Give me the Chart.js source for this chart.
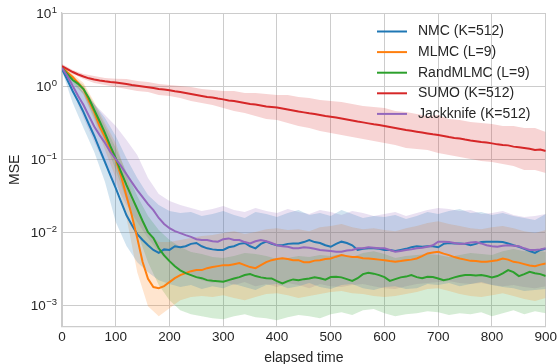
<!DOCTYPE html>
<html>
<head>
<meta charset="utf-8">
<script src="https://cdn.jsdelivr.net/npm/chart.js@4.4.0/dist/chart.umd.min.js"></script>
<style>
  html, body { margin: 0; padding: 0; background: #fff; }
  canvas { display: block; }
</style>
</head>
<body>
<canvas id="mseChart" width="560" height="364"></canvas>
<script>
// elapsed time grid for the mean curves and for the shaded bands
const time = [0,10,20,30,40,50,60,70,80,90,100,110,120,130,140,150,160,170,180,190,200,210,220,230,240,250,260,270,280,290,300,310,320,330,340,350,360,370,380,390,400,410,420,430,440,450,460,470,480,490,500,510,520,530,540,550,560,570,580,590,600,610,620,630,640,650,660,670,680,690,700,710,720,730,740,750,760,770,780,790,800,810,820,830,840,850,860,870,880,890,900]
const bandTime = [0,20,40,60,80,100,120,140,160,180,200,220,240,260,280,300,320,340,360,380,400,420,440,460,480,500,520,540,560,580,600,620,640,660,680,700,720,740,760,780,800,820,840,860,880,900]

const seriesNames = ["NMC (K=512)", "MLMC (L=9)", "RandMLMC (L=9)", "SUMO (K=512)", "Jackknife (K=512)"]

const nmc = [1.71,1.21,0.85,0.62,0.44,0.30,0.207,0.137,0.091,0.060,
  0.040,0.026,0.017,0.0125,0.0094,0.0078,0.0066,0.0057,0.0052,0.0058,
  0.0057,0.0064,0.0062,0.0064,0.0069,0.0071,0.0064,0.0060,0.0058,0.0057,
  0.0057,0.0062,0.0064,0.0069,0.0071,0.0064,0.0060,0.0069,0.0074,0.0069,
  0.0066,0.0066,0.0069,0.0070,0.0070,0.0073,0.0078,0.0073,0.0071,0.0066,
  0.0063,0.0069,0.0074,0.0071,0.0066,0.0057,0.0059,0.0060,0.0060,0.0059,
  0.0057,0.0057,0.0055,0.0057,0.0059,0.0062,0.0064,0.0063,0.0064,0.0064,
  0.0062,0.0069,0.0071,0.0070,0.0070,0.0069,0.0066,0.0069,0.0073,0.0074,
  0.0074,0.0074,0.0073,0.0070,0.0066,0.0063,0.0059,0.0055,0.0052,0.0057,
  0.0059]
const nmcHi = [1.88,1.21,0.828,0.567,0.365,0.207,0.103,0.0549,0.0321,0.0235,
  0.0194,0.0182,0.0188,0.0166,0.0177,0.0194,0.0171,0.0156,0.0188,0.0177,
  0.0161,0.0182,0.0201,0.0171,0.0182,0.0166,0.0201,0.0177,0.0156,0.0166,
  0.0161,0.0171,0.0151,0.0166,0.0188,0.0177,0.0194,0.0207,0.0182,0.0188,
  0.0171,0.0182,0.0166,0.0156,0.0146,0.0177]
const nmcLo = [1.61,0.585,0.266,0.125,0.0484,0.0137,0.00643,0.00388,0.00283,0.00220,
  0.00194,0.00177,0.00188,0.00166,0.00182,0.00171,0.00194,0.00177,0.00161,0.00188,
  0.00194,0.00171,0.00182,0.00201,0.00177,0.00166,0.00188,0.00194,0.00171,0.00161,
  0.00177,0.00182,0.00166,0.00171,0.00194,0.00188,0.00201,0.00182,0.00194,0.00207,
  0.00188,0.00177,0.00171,0.00156,0.00161,0.00166]

const mlmc = [1.82,1.55,1.33,1.10,0.91,0.62,0.44,0.28,0.20,0.137,
  0.097,0.058,0.031,0.0167,0.0083,0.0039,0.0023,0.00177,0.00171,0.00182,
  0.00207,0.00234,0.00258,0.00274,0.00292,0.00302,0.00302,0.00321,0.00332,0.00342,
  0.00353,0.00353,0.00364,0.00376,0.00353,0.00332,0.00321,0.00353,0.00388,0.00413,
  0.00427,0.00440,0.00427,0.00413,0.00413,0.00388,0.00388,0.00407,0.00413,0.00427,
  0.00436,0.00461,0.00484,0.00469,0.00455,0.00455,0.00440,0.00434,0.00427,0.00420,
  0.00413,0.00401,0.00392,0.00401,0.00413,0.00420,0.00436,0.00469,0.00511,0.00524,
  0.00537,0.00507,0.00484,0.00455,0.00436,0.00420,0.00404,0.00401,0.00392,0.00394,
  0.00401,0.00413,0.00434,0.00420,0.00392,0.00382,0.00364,0.00348,0.00342,0.00359,
  0.00372]
const mlmcHi = [1.88,1.46,1.10,0.604,0.311,0.166,0.0604,0.0188,0.0100,0.00730,
  0.00730,0.00777,0.00828,0.00882,0.00910,0.00969,0.0103,0.00939,0.0100,0.0109,
  0.0113,0.0107,0.0109,0.0103,0.0117,0.0121,0.0129,0.0117,0.0109,0.0113,
  0.0107,0.0103,0.0113,0.0121,0.0133,0.0141,0.0129,0.0121,0.0113,0.0109,
  0.0117,0.0121,0.0113,0.0103,0.00969,0.0107]
const mlmcLo = [1.71,1.21,0.753,0.342,0.133,0.0549,0.0156,0.00283,0.000969,0.000707,
  0.000910,0.00117,0.00129,0.00133,0.00129,0.00137,0.00125,0.00117,0.00129,0.00142,
  0.00146,0.00137,0.00125,0.00133,0.00142,0.00151,0.00156,0.00146,0.00142,0.00133,
  0.00129,0.00133,0.00142,0.00151,0.00166,0.00171,0.00156,0.00142,0.00133,0.00129,
  0.00137,0.00146,0.00133,0.00121,0.00114,0.00125]

const randMlmc = [1.77,1.46,1.21,1.07,0.91,0.68,0.47,0.33,0.227,0.150,
  0.103,0.066,0.044,0.0302,0.0207,0.0142,0.0100,0.0083,0.0060,0.0048,
  0.0040,0.0034,0.0030,0.00274,0.00258,0.00242,0.00234,0.00220,0.00215,0.00213,
  0.00209,0.00220,0.00232,0.00242,0.00258,0.00266,0.00250,0.00240,0.00234,0.00232,
  0.00213,0.00198,0.00213,0.00225,0.00220,0.00227,0.00232,0.00240,0.00234,0.00223,
  0.00242,0.00244,0.00240,0.00227,0.00215,0.00234,0.00266,0.00277,0.00270,0.00258,
  0.00242,0.00215,0.00227,0.00240,0.00246,0.00258,0.00242,0.00234,0.00244,0.00242,
  0.00232,0.00220,0.00227,0.00240,0.00250,0.00258,0.00258,0.00254,0.00258,0.00250,
  0.00240,0.00250,0.00272,0.00302,0.00283,0.00250,0.00266,0.00286,0.00274,0.00266,
  0.00250]
const randMlmcHi = [1.82,1.33,1.032,0.567,0.283,0.142,0.0664,0.0311,0.0166,0.0107,
  0.00777,0.00623,0.00532,0.00500,0.00455,0.00441,0.00469,0.00516,0.00500,0.00469,
  0.00427,0.00441,0.00469,0.00455,0.00484,0.00469,0.00500,0.00455,0.00516,0.00549,
  0.00500,0.00441,0.00469,0.00484,0.00500,0.00484,0.00455,0.00484,0.00516,0.00500,
  0.00484,0.00549,0.00585,0.00549,0.00567,0.00532]
const randMlmcLo = [1.66,1.065,0.777,0.365,0.171,0.0707,0.0275,0.0100,0.00388,0.00188,
  0.00117,0.000854,0.000753,0.000707,0.000664,0.000643,0.000707,0.000753,0.000685,0.000664,
  0.000623,0.000685,0.000730,0.000707,0.000664,0.000753,0.000802,0.000730,0.000854,0.000882,
  0.000777,0.000707,0.000753,0.000777,0.000828,0.000802,0.000730,0.000777,0.000753,0.000802,
  0.000707,0.000777,0.000854,0.000753,0.000828,0.000777]

const sumo = [1.88,1.71,1.555,1.438,1.349,1.275,1.227,1.189,1.159,1.135,
  1.117,1.089,1.065,1.032,1.006,0.984,0.960,0.939,0.910,0.895,
  0.873,0.846,0.828,0.802,0.777,0.753,0.730,0.707,0.696,0.674,
  0.657,0.633,0.623,0.604,0.585,0.567,0.558,0.541,0.524,0.516,
  0.508,0.492,0.476,0.461,0.447,0.436,0.423,0.413,0.401,0.388,
  0.380,0.370,0.359,0.348,0.337,0.326,0.318,0.308,0.299,0.292,
  0.283,0.274,0.266,0.258,0.250,0.244,0.237,0.231,0.224,0.218,
  0.213,0.207,0.200,0.195,0.191,0.185,0.180,0.176,0.171,0.168,
  0.164,0.159,0.156,0.154,0.148,0.145,0.142,0.138,0.133,0.135,
  0.129]
const sumoHi = [2.0,1.656,1.46,1.37,1.287,1.26,1.247,1.171,1.134,1.065,
  1.032,1.0,0.969,0.910,0.882,0.854,0.854,0.802,0.802,0.777,
  0.753,0.753,0.707,0.685,0.643,0.623,0.604,0.567,0.532,0.516,
  0.500,0.455,0.441,0.414,0.388,0.401,0.353,0.342,0.321,0.311,
  0.302,0.283,0.283,0.266,0.266,0.235]
const sumoLo = [1.76,1.46,1.247,1.099,1.032,0.969,0.910,0.854,0.828,0.753,
  0.730,0.685,0.623,0.585,0.549,0.500,0.455,0.427,0.388,0.353,
  0.342,0.311,0.283,0.266,0.242,0.227,0.214,0.201,0.188,0.177,
  0.166,0.156,0.142,0.137,0.133,0.121,0.114,0.107,0.100,0.0939,
  0.0910,0.0854,0.0802,0.0707,0.0707,0.0643]

const jackknife = [1.77,1.37,1.00,0.73,0.55,0.39,0.28,0.213,0.166,0.125,
  0.100,0.080,0.062,0.048,0.0376,0.0302,0.0242,0.0200,0.0156,0.0129,
  0.0113,0.0103,0.0097,0.0091,0.0086,0.0080,0.0078,0.0078,0.0075,0.0074,
  0.0080,0.0082,0.0078,0.0078,0.0073,0.0070,0.0075,0.0078,0.0075,0.0071,
  0.0066,0.0064,0.0063,0.0060,0.0060,0.0062,0.0061,0.0059,0.0057,0.0056,
  0.0055,0.0054,0.0054,0.0056,0.0057,0.0060,0.0060,0.0062,0.0061,0.0060,
  0.0060,0.0057,0.0054,0.0055,0.0057,0.0058,0.0060,0.0061,0.0063,0.0066,
  0.0074,0.0074,0.0073,0.0071,0.0069,0.0070,0.0072,0.0073,0.0070,0.0066,
  0.0064,0.0063,0.0065,0.0066,0.0065,0.0064,0.0060,0.0057,0.0057,0.0058,
  0.0060]
const jackknifeHi = [1.82,1.21,0.882,0.567,0.401,0.283,0.182,0.114,0.0549,0.0332,
  0.0266,0.0235,0.0214,0.0194,0.0207,0.0227,0.0201,0.0188,0.0214,0.0194,
  0.0182,0.0207,0.0188,0.0177,0.0201,0.0188,0.0171,0.0194,0.0182,0.0166,
  0.0177,0.0188,0.0166,0.0182,0.0201,0.0214,0.0207,0.0194,0.0201,0.0177,
  0.0182,0.0194,0.0171,0.0161,0.0166,0.0177]
const jackknifeLo = [1.66,0.828,0.365,0.171,0.0828,0.0441,0.0235,0.0137,0.00828,0.00532,
  0.00388,0.00302,0.00250,0.00220,0.00201,0.00214,0.00188,0.00207,0.00182,0.00194,
  0.00177,0.00201,0.00188,0.00171,0.00194,0.00182,0.00177,0.00188,0.00194,0.00182,
  0.00171,0.00166,0.00182,0.00194,0.00201,0.00207,0.00214,0.00201,0.00194,0.00201,
  0.00188,0.00182,0.00188,0.00177,0.00171,0.00182]

const xTicks = [0,100,200,300,400,500,600,700,800,900]
const yTicks = [0.001, 0.01, 0.1, 1, 10]
const yTickExponents = ["\u22123", "\u22122", "\u22121", "0", "1"]

const FONT = "'Liberation Sans', Arial, sans-serif"
const TEXT = "#262626"
const colors = ["#1f77b4", "#ff7f0e", "#2ca02c", "#d62728", "#9467bd"]
const bandColors = ["rgba(31,119,180,0.2)", "rgba(255,127,14,0.2)", "rgba(44,160,44,0.2)", "rgba(214,39,40,0.2)", "rgba(148,103,189,0.2)"]

const means = [nmc, mlmc, randMlmc, sumo, jackknife]
const highs = [nmcHi, mlmcHi, randMlmcHi, sumoHi, jackknifeHi]
const lows = [nmcLo, mlmcLo, randMlmcLo, sumoLo, jackknifeLo]

const points = (xs, ys) => xs.map((x, i) => ({ x: x, y: ys[i] }))

const datasets = []
means.forEach((m, i) => {
  datasets.push({
    label: seriesNames[i] + " lo",
    isBand: true,
    data: points(bandTime, lows[i]),
    borderWidth: 0,
    pointRadius: 0,
    fill: false,
    order: 10,
  })
  datasets.push({
    label: seriesNames[i] + " hi",
    isBand: true,
    data: points(bandTime, highs[i]),
    borderWidth: 0,
    pointRadius: 0,
    backgroundColor: bandColors[i],
    fill: datasets.length - 1,
    order: 10,
  })
})
means.forEach((m, i) => {
  datasets.push({
    label: seriesNames[i],
    data: points(time, m),
    borderColor: colors[i],
    borderWidth: 2,
    pointRadius: 0,
    fill: false,
    order: 4 - i,
  })
})

// y tick labels as 10 with a raised exponent, like mathtext
const powerLabels = {
  id: "powerLabels",
  afterDraw(chart) {
    const ctx = chart.ctx
    const y = chart.scales.y
    ctx.save()
    ctx.fillStyle = TEXT
    ctx.textBaseline = "alphabetic"
    ctx.textAlign = "left"
    yTicks.forEach((v, i) => {
      const py = y.getPixelForValue(v)
      ctx.font = "9.5px " + FONT
      const ew = ctx.measureText(yTickExponents[i]).width
      ctx.font = "13.5px " + FONT
      const bw = ctx.measureText("10").width
      const right = 57
      ctx.fillText("10", right - ew - bw - 0.5, py + 5)
      ctx.font = "9.5px " + FONT
      ctx.fillText(yTickExponents[i], right - ew, py - 0.5)
    })
    ctx.restore()
  },
}

// legend drawn inside the plot, top right, without a frame
const legendInside = {
  id: "legendInside",
  afterDraw(chart) {
    const ctx = chart.ctx
    const lines = chart.data.datasets.filter((d) => !d.isBand)
    ctx.save()
    ctx.font = "14px " + FONT
    ctx.textBaseline = "middle"
    ctx.textAlign = "left"
    lines.forEach((d, i) => {
      const y = 31.5 + i * 20.6
      ctx.strokeStyle = d.borderColor
      ctx.lineWidth = 2
      ctx.beginPath()
      ctx.moveTo(377, y)
      ctx.lineTo(407, y)
      ctx.stroke()
      ctx.fillStyle = TEXT
      ctx.fillText(d.label, 418, y)
    })
    ctx.restore()
  },
}

new Chart(document.getElementById("mseChart"), {
  type: "line",
  data: { datasets: datasets },
  plugins: [legendInside, powerLabels],
  options: {
    responsive: false,
    animation: false,
    layout: { padding: { top: 13, right: 13, left: 0, bottom: 0 } },
    plugins: {
      legend: { display: false },
      tooltip: { enabled: false },
      filler: { drawTime: "beforeDatasetsDraw" },
    },
    scales: {
      x: {
        type: "linear",
        min: 0,
        max: 900,
        afterBuildTicks: (s) => { s.ticks = xTicks.map((v) => ({ value: v })) },
        ticks: { color: TEXT, font: { family: FONT, size: 13.5 }, padding: 3, maxRotation: 0 },
        grid: { color: "#cccccc", lineWidth: 1, drawTicks: false },
        border: { color: "#cccccc", width: 1.25 },
        title: { display: true, text: "elapsed time", color: TEXT, font: { family: FONT, size: 14, lineHeight: 1 }, padding: { top: 0, bottom: -1 } },
        afterFit: (s) => { s.height = 37.5 },
      },
      y: {
        type: "logarithmic",
        min: 0.00051,
        max: 10,
        afterBuildTicks: (s) => { s.ticks = yTicks.map((v) => ({ value: v })) },
        ticks: { display: false },
        grid: { color: "#cccccc", lineWidth: 1, drawTicks: false },
        border: { color: "#cccccc", width: 1.25 },
        title: { display: true, text: "MSE", color: TEXT, font: { family: FONT, size: 14, lineHeight: 1 }, padding: { top: 8, bottom: 0 } },
        afterFit: (s) => { s.width = 62 },
      },
    },
  },
})
</script>
</body>
</html>
